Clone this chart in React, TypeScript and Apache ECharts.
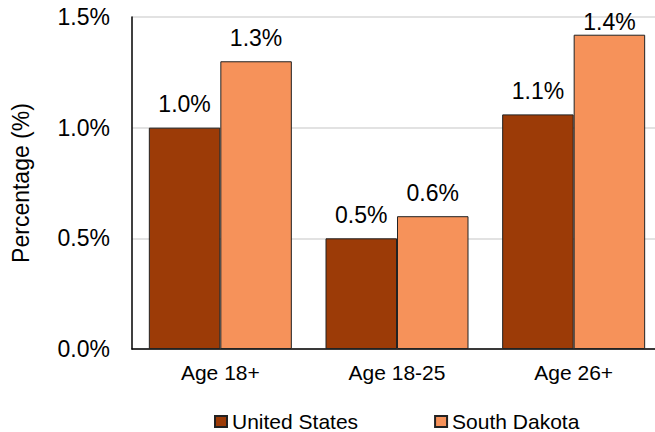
import React, { useEffect, useRef } from "react";
import * as echarts from "echarts";

const categories = ["Age 18+", "Age 18-25", "Age 26+"];
const usValues = [1.0, 0.5, 1.06];
const sdValues = [1.3, 0.6, 1.42];
const seriesNames = ["United States", "South Dakota"];

export default function App() {
  const ref = useRef<HTMLDivElement>(null);
  useEffect(() => {
    if (!ref.current) return;
    const chart = echarts.init(ref.current, null, { renderer: "svg" });
    const font = "Liberation Sans, Arial, sans-serif";
    const label = {
      show: true,
      position: "top",
      distance: 12,
      fontSize: 23,
      fontFamily: font,
      color: "#000",
      formatter: (p: any) => p.value.toFixed(1) + "%",
    };
    // labels that would leave the plot area are pulled down close to the bar
    const withLabels = (vals: number[]) =>
      vals.map((v) => (v > 1.35 ? { value: v, label: { distance: 1 } } : v));
    chart.setOption({
      animation: false,
      textStyle: { fontFamily: font },
      grid: { left: 132, right: 0, top: 17, bottom: 83, containLabel: false },
      legend: {
        data: seriesNames,
        left: 214,
        top: 411,
        padding: 0,
        itemWidth: 12,
        itemHeight: 11,
        itemGap: 76,
        icon: "rect",
        textStyle: { fontSize: 21, lineHeight: 20, fontFamily: font, color: "#000" },
      },
      xAxis: {
        type: "category",
        data: categories,
        axisLine: { show: true, lineStyle: { color: "#000", width: 1.5 } },
        axisTick: { show: false },
        axisLabel: { fontSize: 21, fontFamily: font, color: "#000", margin: 13 },
      },
      yAxis: {
        type: "value",
        min: 0,
        max: 1.5,
        interval: 0.5,
        name: "Percentage (%)",
        nameLocation: "middle",
        nameGap: 100,
        nameTextStyle: { fontSize: 23, fontFamily: font, color: "#000" },
        axisLine: { show: true, lineStyle: { color: "#000", width: 1.5 } },
        axisTick: { show: false },
        axisLabel: {
          fontSize: 23,
          fontFamily: font,
          color: "#000",
          margin: 22,
          formatter: (v: number) => v.toFixed(1) + "%",
        },
        splitLine: { show: true, lineStyle: { color: "#d9d9d9", width: 1.5 } },
      },
      series: [
        {
          name: seriesNames[0],
          type: "bar",
          data: withLabels(usValues),
          barWidth: 71.5,
          barGap: "0%",
          itemStyle: { color: "#9C3B07", borderColor: "#222", borderWidth: 1 },
          label,
        },
        {
          name: seriesNames[1],
          type: "bar",
          data: withLabels(sdValues),
          barWidth: 71.5,
          barGap: "0%",
          itemStyle: { color: "#F6925A", borderColor: "#222", borderWidth: 1 },
          label,
        },
      ],
    });
    return () => chart.dispose();
  }, []);
  return (
    <div
      style={{ position: "fixed", left: 0, top: 0, width: 655, height: 432, overflow: "hidden", background: "#fff" }}
    >
      <div ref={ref} style={{ width: 661.5, height: 432 }} />
    </div>
  );
}
